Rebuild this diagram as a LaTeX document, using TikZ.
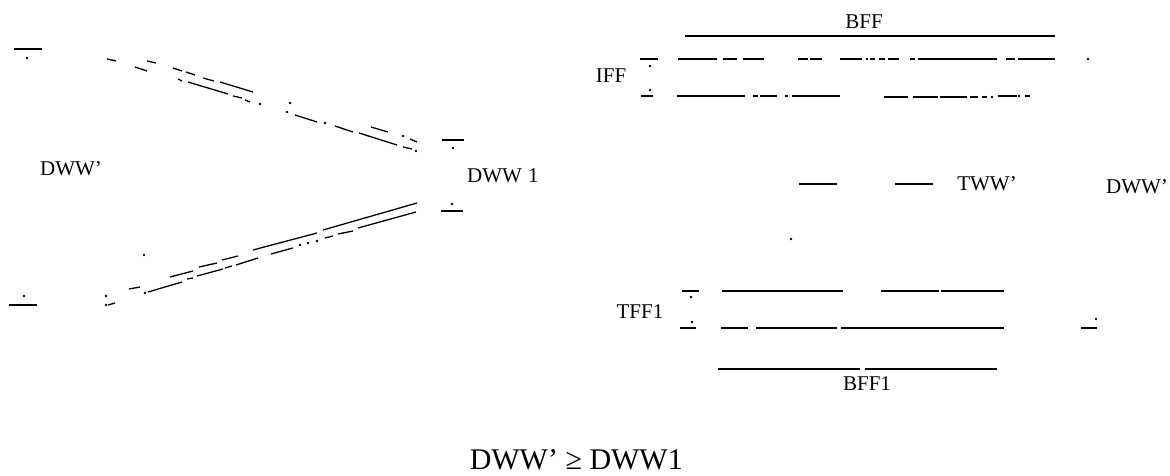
\documentclass[tikz,border=0pt]{standalone}
\usepackage{fontspec}
\setmainfont{Liberation Serif}
\tikzset{
  seg/.style={line width=1.3pt,black},
  heavyseg/.style={line width=1.7pt,black},
  speck/.style={circle,fill=black,inner sep=0pt,minimum size=2.6pt},
  lbl/.style={inner sep=0pt,anchor=center,font=\fontsize{21}{21}\selectfont},
  biglbl/.style={inner sep=0pt,anchor=center,font=\fontsize{30}{30}\selectfont}
}
\newcommand{\segs}[2][seg]{\foreach \a/\b/\c/\d in {#2} \draw[#1] (\a,\b) -- (\c,\d);}
\newcommand{\specks}[1]{\foreach \a/\b in {#1} \node[speck] at (\a,\b) {};}
\begin{document}
\begin{tikzpicture}[x=1pt,y=-1pt]
\useasboundingbox (0,0) rectangle (1170,476);
% left: upper converging lines
\segs{107/59/116/61,135/67/147/71,147/61/156/63,173/68/182/71,186/72/195/75,203/78/214/81,220/82/253/92,
178/79/182/81,188/82/228/94,233/96/242/98,245/100/250/102,
295/115/317/122,335/126/353/132,359/133/397/145,371/127/388/132,410/139/417/142,403/147/412/149,
% lower converging lines
417/203/323/230,317/233/253/250,238/256/222/260,217/263/199/267,193/271/170/277,140/287/129/289,
416/212/358/228,353/231/338/234,333/236/325/238,293/248/271/254,258/258/236/265,232/266/225/268,223/269/197/276,193/278/187/279,182/282/148/292,115/303/108/305}
% ticks
\segs[heavyseg]{14/49/42/49,9/305/37/305,442/140/464/140,441/211/463/211,
640/59/658/59,641/96/653/96,682/291/699/291,680/328/696/328,1081/328/1097/328}
% right: upper section
\segs[heavyseg]{685/36/1055/36,
678/59/717/59,723/59/737/59,743/59/764/59,798/59/808/59,810/59/822/59,840/59/862/59,866/59/868/59,870/59/875/59,879/59/885/59,888/59/899/59,910/59/915/59,918/59/997/59,1006/59/1015/59,1018/59/1055/59,
677/96/745/96,753/96/758/96,760/96/777/96,785/96/788/96,792/96/840/96,884/97/908/97,913/97/938/97,940/97/967/97,970/97/978/97,982/97/987/97,998/96/1017/96,1025/96/1030/96,
799/184/837/184,895/184/933/184,
% right: lower section
722/291/843/291,881/291/939/291,941/291/1004/291,
721/328/748/328,756/328/837/328,841/328/1004/328,
718/369/860/369,865/369/997/369}
\specks{27/58,24/296,453/148,452/204,260/104,290/103,287/112,325/123,403/136,416/151,317/241,308/243,300/245,145/293,106/296,106/305,144/255,
650/66,650/90,1088/59,791/239,691/297,692/322,1096/319,992/97,1019/96}
\node[lbl] (a) at (71,169) {DWW'};
\node[lbl,anchor=west] (b) at (467,176) {DWW\kern6pt 1};
\node[lbl] (c) at (864,22) {BFF};
\node[lbl] (d) at (611,76) {IFF};
\node[lbl] (e) at (987,184) {TWW'};
\node[lbl] (f) at (1137,187) {DWW'};
\node[lbl] (g) at (640,312) {TFF1};
\node[lbl] (h) at (867,384) {BFF1};
\node[biglbl,anchor=east] (i) at (683,460) {DWW' ≥ DWW1};
\end{tikzpicture}
\end{document}
